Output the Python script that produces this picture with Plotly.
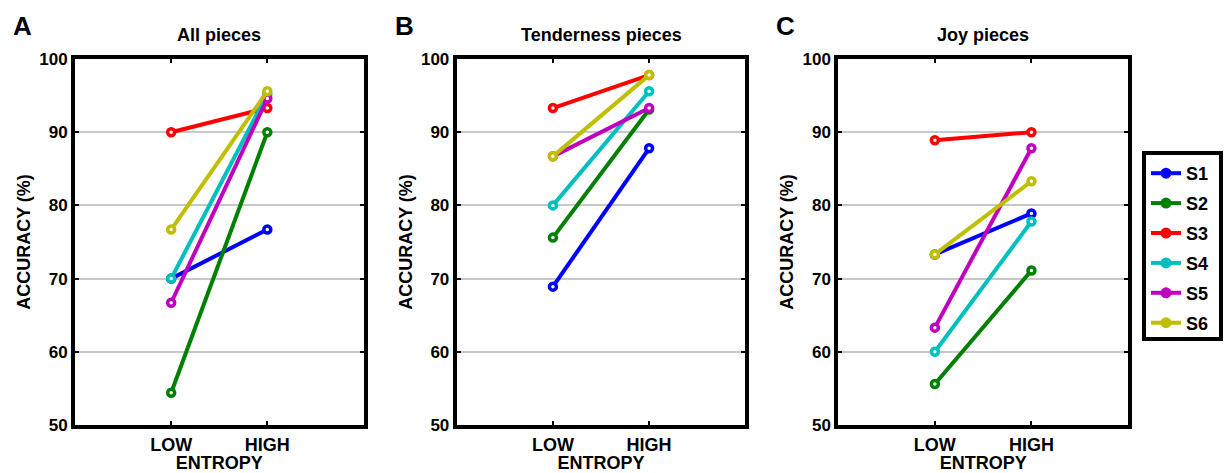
import plotly.graph_objects as go

W, H = 1226, 473

conditions = ["LOW", "HIGH"]
subjects = ["S1", "S2", "S3", "S4", "S5", "S6"]
colors = ["#0000ff", "#008000", "#ff0000", "#00bfbf", "#bf00bf", "#bfbf00"]
panel_titles = ["All pieces", "Tenderness pieces", "Joy pieces"]
panel_letters = ["A", "B", "C"]

# accuracy (%) per subject: [LOW, HIGH]
all_pieces = [[70.0, 76.7], [54.4, 90.0], [90.0, 93.3], [70.0, 95.2], [66.7, 94.6], [76.7, 95.6]]
tenderness = [[68.9, 87.8], [75.6, 93.1], [93.3, 97.8], [80.0, 95.6], [86.7, 93.3], [86.7, 97.8]]
joy = [[73.3, 78.9], [55.6, 71.1], [88.9, 90.0], [60.0, 77.8], [63.3, 87.8], [73.3, 83.3]]
panels = [all_pieces, tenderness, joy]

x_pos = [1, 2]
y_ticks = [50, 60, 70, 80, 90, 100]

FONT = "Liberation Sans, Arial, sans-serif"

# pixel positions of the plot areas
x_px = [(75, 363.5), (456.7, 745.3), (838.3, 1128)]
y_px = (59, 425)
legend_box = (1144, 153, 1221, 339)

fig = go.Figure()
for p, data in enumerate(panels):
    ax = "" if p == 0 else str(p + 1)
    for s, vals in enumerate(data):
        fig.add_trace(go.Scatter(
            x=x_pos, y=vals, mode="lines+markers",
            xaxis="x" + ax, yaxis="y" + ax,
            line=dict(color=colors[s], width=4),
            marker=dict(size=7, color="white", line=dict(color=colors[s], width=3.5)),
            showlegend=False, name=subjects[s], hoverinfo="skip"))

# legend entries
for s, name in enumerate(subjects):
    fig.add_trace(go.Scatter(
        x=[None], y=[None], mode="lines+markers", name=name,
        legendgroup="g%d" % s,
        line=dict(color=colors[s], width=4),
        marker=dict(size=11, color=colors[s]),
        showlegend=True))

layout = dict(
    width=W, height=H,
    paper_bgcolor="white", plot_bgcolor="white",
    margin=dict(l=0, r=0, t=0, b=0, autoexpand=False),
    font=dict(family=FONT, size=18, color="black"),
    showlegend=True,
    legend=dict(
        x=1146 / W, y=1 - 155 / H, xanchor="left", yanchor="top",
        borderwidth=0, bgcolor="rgba(0,0,0,0)",
        font=dict(family=FONT, size=18, color="black", weight="bold"),
        tracegroupgap=3.5, itemwidth=30),
    shapes=[dict(type="rect", xref="paper", yref="paper",
                 x0=legend_box[0] / W, x1=legend_box[2] / W,
                 y0=1 - legend_box[3] / H, y1=1 - legend_box[1] / H,
                 line=dict(color="black", width=4), fillcolor="rgba(0,0,0,0)",
                 layer="above")],
)

annotations = []
for p in range(3):
    ax = "" if p == 0 else str(p + 1)
    x0, x1 = x_px[p]
    layout["xaxis" + ax] = dict(
        domain=[x0 / W, x1 / W], range=[0, 3], anchor="y" + ax,
        tickvals=x_pos, ticktext=conditions,
        ticks="inside", ticklen=4, tickwidth=2, tickcolor="black",
        showline=True, linewidth=4, linecolor="black", mirror="allticks",
        showgrid=False, zeroline=False, automargin=False,
        tickfont=dict(family=FONT, size=18, weight="bold"),
        title=dict(text="ENTROPY", standoff=0,
                   font=dict(family=FONT, size=18, weight="bold")),
        fixedrange=True)
    layout["yaxis" + ax] = dict(
        domain=[1 - y_px[1] / H, 1 - y_px[0] / H], range=[50, 100], anchor="x" + ax,
        tickvals=y_ticks,
        ticks="inside", ticklen=4, tickwidth=2, tickcolor="black",
        showline=True, linewidth=4, linecolor="black", mirror="allticks",
        showgrid=True, gridcolor="#c8c8c8", gridwidth=2, zeroline=False,
        automargin=False,
        tickfont=dict(family=FONT, size=17, weight="bold"),
        title=dict(text="ACCURACY (%)", standoff=5,
                   font=dict(family=FONT, size=18, weight="bold")),
        fixedrange=True)
    annotations.append(dict(
        text=panel_titles[p], x=(x0 + x1) / 2 / W, y=1 - 35 / H,
        xref="paper", yref="paper", xanchor="center", yanchor="middle",
        showarrow=False, font=dict(family=FONT, size=18, weight="bold")))
    annotations.append(dict(
        text=panel_letters[p], x=(x0 - 64) / W, y=1 - 26 / H,
        xref="paper", yref="paper", xanchor="left", yanchor="middle",
        showarrow=False, font=dict(family=FONT, size=26, weight="bold")))

layout["annotations"] = annotations
fig.update_layout(**layout)
fig.write_html("out.html", config={"displayModeBar": False},
               post_script="document.body.style.margin='0';document.body.style.overflow='hidden';")
